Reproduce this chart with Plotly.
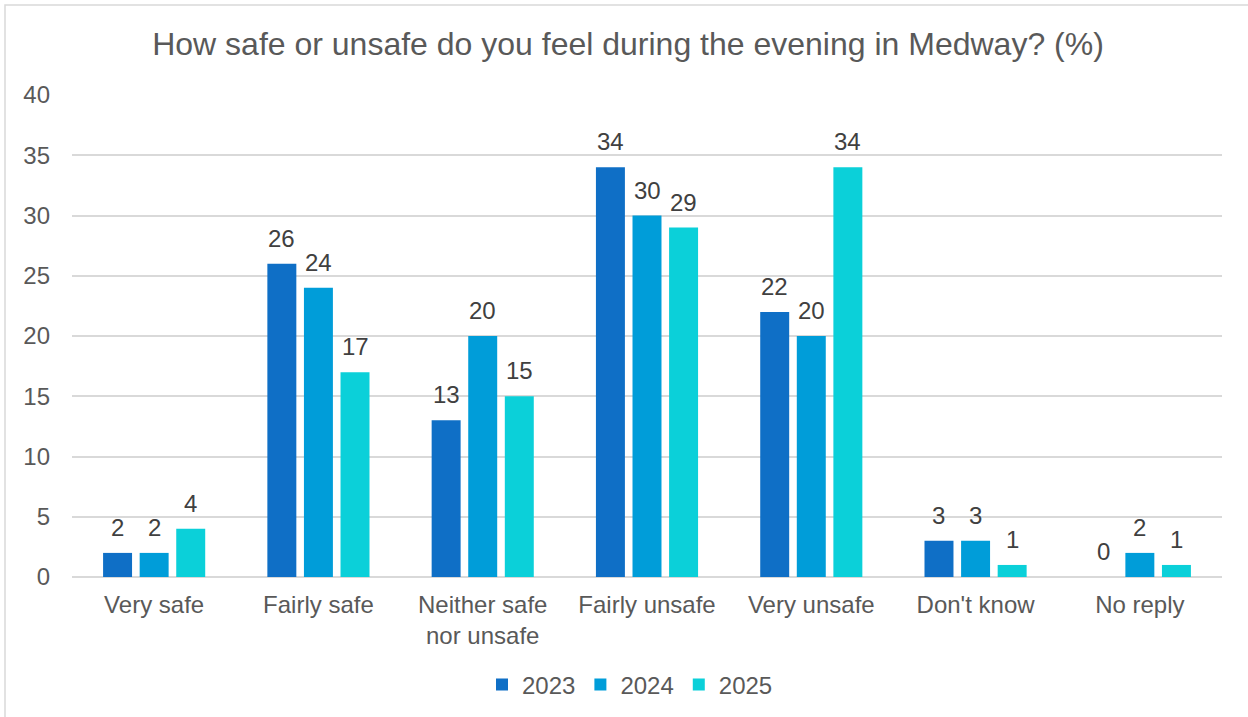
import plotly.graph_objects as go

categories = ["Very safe", "Fairly safe", "Neither safe<br>nor unsafe", "Fairly unsafe",
              "Very unsafe", "Don't know", "No reply"]
series_names = ["2023", "2024", "2025"]
values_2023 = [2, 26, 13, 34, 22, 3, 0]
values_2024 = [2, 24, 20, 30, 20, 3, 2]
values_2025 = [4, 17, 15, 29, 34, 1, 1]
colors = ["#0F6FC6", "#009DD9", "#0BD0D9"]

font_family = "Liberation Sans, Arial, sans-serif"
text_color = "#595959"
label_color = "#404040"

W, H = 1248, 717
ml, mr, mt, mb = 72, 26, 95, 140
pw, ph = W - ml - mr, H - mt - mb

fig = go.Figure()
all_series = [values_2023, values_2024, values_2025]
for name, vals, col in zip(series_names, all_series, colors):
    fig.add_trace(go.Bar(
        x=categories, y=vals, name=name,
        marker=dict(color=col, line=dict(width=0)),
        hoverinfo="x+y+name",
    ))

# data labels anchored to each bar's value
slot_px = 36.6
for i, vals in enumerate(all_series):
    for cat, v in zip(categories, vals):
        fig.add_annotation(
            x=cat, y=v, text=str(v), showarrow=False,
            xref="x", yref="y", xanchor="center", yanchor="bottom",
            xshift=(i - 1) * slot_px, yshift=10,
            font=dict(size=24, color=label_color, family=font_family),
        )

fig.update_layout(
    width=W, height=H,
    margin=dict(l=ml, r=mr, t=mt, b=mb, autoexpand=False),
    paper_bgcolor="white", plot_bgcolor="white",
    barmode="group", bargap=0.332, bargroupgap=0.208,
    font=dict(family=font_family, color=text_color, size=24),
    title=dict(text="How safe or unsafe do you feel during the evening in Medway? (%)",
               x=(628 - ml) / pw, xref="paper", xanchor="center", y=1 - 44 / H, yanchor="middle",
               font=dict(size=32, color=text_color, family=font_family)),
    legend=dict(orientation="h", x=(630 - ml) / pw, xanchor="center", y=-(685 - (H - mb)) / ph,
                yanchor="middle", font=dict(size=24, color=text_color), traceorder="normal",
                itemwidth=30),
    yaxis=dict(range=[0, 40], dtick=5, showgrid=True, gridcolor="#D9D9D9", gridwidth=1.5,
               zeroline=True, zerolinecolor="#D9D9D9", zerolinewidth=1.5,
               tickfont=dict(size=24, color=text_color), ticks="", ticklabelstandoff=21),
    xaxis=dict(showgrid=False, showline=False, tickfont=dict(size=24, color=text_color), ticks="",
               ticklabelstandoff=11),
    showlegend=True,
)

# outer chart border
x_left = (5 - ml) / pw
y_top = (H - mb - 5) / ph
x_right = (W + 5 - ml) / pw
y_bottom = -(mb + 5) / ph
fig.add_shape(type="rect", xref="paper", yref="paper", x0=x_left, x1=x_right, y0=y_bottom, y1=y_top,
              line=dict(color="#D9D9D9", width=1.5), fillcolor="rgba(0,0,0,0)", layer="below")

fig.write_html("out.html", config={"displayModeBar": False},
               post_script="document.body.style.margin='0';document.body.style.overflow='hidden';")
